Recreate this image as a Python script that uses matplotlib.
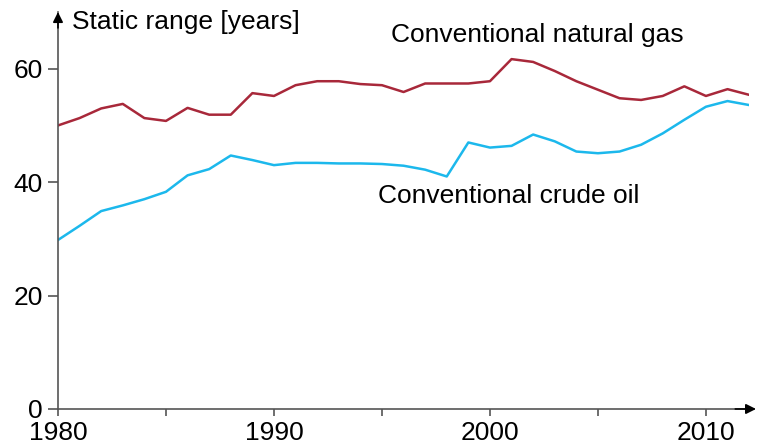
import matplotlib
matplotlib.use("Agg")
import matplotlib.pyplot as plt

plt.rcParams['font.family'] = ['Liberation Sans', 'DejaVu Sans']

years = list(range(1980, 2013))
gas = [50.0, 51.3, 53.0, 53.8, 51.3, 50.8, 53.1, 51.9, 51.9, 55.7, 55.2,
       57.1, 57.8, 57.8, 57.3, 57.1, 55.9, 57.4, 57.4, 57.4, 57.8,
       61.7, 61.2, 59.6, 57.8, 56.3, 54.8, 54.5, 55.2, 56.9, 55.2, 56.4, 55.4]
oil = [29.8, 32.3, 34.9, 35.9, 37.0, 38.3, 41.2, 42.3, 44.7, 43.9, 43.0,
       43.4, 43.4, 43.3, 43.3, 43.2, 42.9, 42.2, 41.0, 47.0, 46.1,
       46.4, 48.4, 47.2, 45.4, 45.1, 45.4, 46.6, 48.6, 51.0, 53.3, 54.3, 53.6]

gas_color = '#a8283a'
oil_color = '#1cb8ec'
axis_color = '#555555'

fig = plt.figure(figsize=(7.57, 4.46), dpi=100)
ax = fig.add_axes([0.0766, 0.083, 0.913, 0.89])

ax.plot(years, gas, color=gas_color, lw=1.8)
ax.plot(years, oil, color=oil_color, lw=1.8)

ax.set_xlim(1980, 2012.0)
ax.set_ylim(0, 70)

ax.set_yticks([0, 20, 40, 60])
ax.set_xticks(range(1980, 2011, 5))
ax.set_xticklabels(['1980', '', '1990', '', '2000', '', '2010'])

for s in ['top', 'right']:
    ax.spines[s].set_visible(False)
for s in ['left', 'bottom']:
    ax.spines[s].set_color(axis_color)
    ax.spines[s].set_linewidth(1.2)

ax.tick_params(axis='both', colors=axis_color, labelcolor='black',
               labelsize=19, width=1.2, direction='out')
ax.tick_params(axis='x', length=5, pad=4)
ax.tick_params(axis='y', length=7, pad=4)

# arrow heads on the axes
ax.annotate('', xy=(1.01, 0), xytext=(0.98, 0), xycoords='axes fraction',
            arrowprops=dict(arrowstyle='-|>', color='black', lw=1.2,
                            mutation_scale=15, shrinkA=0, shrinkB=0),
            annotation_clip=False)
ax.annotate('', xy=(0, 1.0), xytext=(0, 0.96), xycoords='axes fraction',
            arrowprops=dict(arrowstyle='-|>', color='black', lw=1.2,
                            mutation_scale=15, shrinkA=0, shrinkB=0),
            annotation_clip=False)

ax.text(0.02, 0.975, 'Static range [years]', transform=ax.transAxes,
        fontsize=19, va='center', ha='left')
ax.text(1995.4, 66.0, 'Conventional natural gas', fontsize=19,
        va='center', ha='left')
ax.text(1994.8, 37.6, 'Conventional crude oil', fontsize=19,
        va='center', ha='left')

fig.savefig('out.png', dpi=100)
